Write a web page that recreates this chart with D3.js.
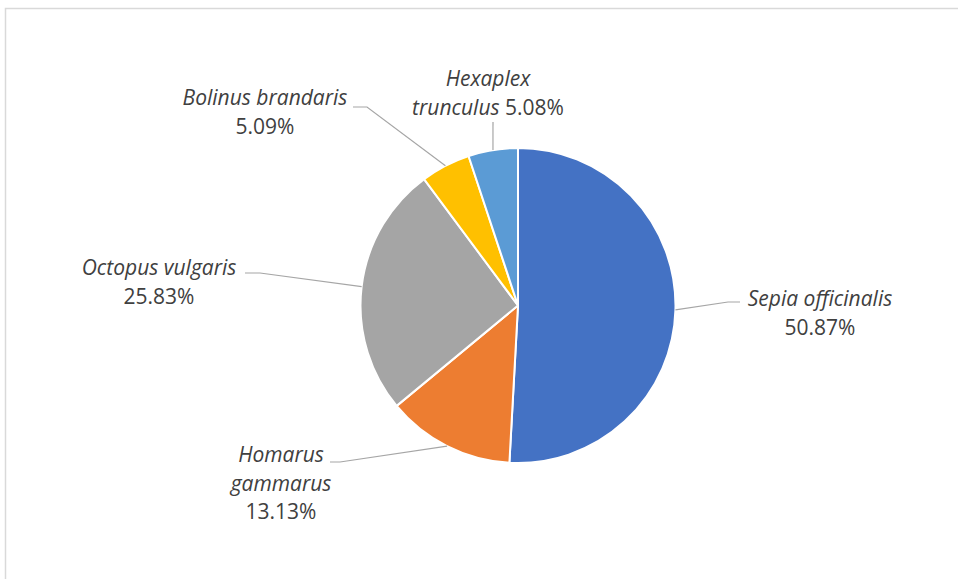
<!DOCTYPE html>
<html><head><meta charset="utf-8">
<script src="https://cdn.jsdelivr.net/npm/d3@7"></script>
<style>body{margin:0;background:#fff}svg{display:block}</style>
</head><body><svg id="c" width="958" height="579"></svg>
<script>
const categories = ["Sepia officinalis","Homarus gammarus","Octopus vulgaris","Bolinus brandaris","Hexaplex trunculus"];
const values = [50.87, 13.13, 25.83, 5.09, 5.08];
const colors = ["#4472C4","#ED7D31","#A5A5A5","#FFC000","#5B9BD5"];
// label text lines (name parts are italic, percentages upright)
const labelLines = [
  [[["Sepia officinalis",true]],[["50.87%",false]]],
  [[["Homarus",true]],[["gammarus",true]],[["13.13%",false]]],
  [[["Octopus vulgaris",true]],[["25.83%",false]]],
  [[["Bolinus brandaris",true]],[["5.09%",false]]],
  [[["Hexaplex",true]],[["trunculus",true],[" 5.08%",false]]]
];
// layout: label centre x, first baseline y, elbow point, end of leader
const labelLayout = [
  {x:820, y:306, elbow:[728,302], end:[740,302]},
  {x:281, y:462, elbow:[340,462], end:[330,462]},
  {x:159, y:275, elbow:[260,273], end:[245,273]},
  {x:265, y:105, elbow:[367,107], end:[353,107]},
  {x:488, y:86,  elbow:[493,122], end:[493,122]}
];
const W=958,H=579, cx=518, cy=305.5, R=157.5, lineH=28.7;
const svg=d3.select("#c");
svg.append("rect").attr("x",5.5).attr("y",8.5).attr("width",1000).attr("height",600)
  .attr("fill","#fff").attr("stroke","#d9d9d9").attr("stroke-width",1.5);
const pie=d3.pie().sort(null).value(d=>d)(values);
const arc=d3.arc().innerRadius(0).outerRadius(R);
const g=svg.append("g").attr("transform",`translate(${cx},${cy})`);
g.selectAll("path").data(pie).join("path").attr("d",arc)
  .attr("fill",(d,i)=>colors[i]).attr("stroke","#fff").attr("stroke-width",2).attr("stroke-linejoin","round");
// leaders
pie.forEach((d,i)=>{
  const a=(d.startAngle+d.endAngle)/2;
  const sx=cx+R*Math.sin(a), sy=cy-R*Math.cos(a);
  const L=labelLayout[i];
  svg.append("polyline").attr("points",[[sx,sy],L.elbow,L.end].map(p=>p.join(",")).join(" "))
    .attr("fill","none").attr("stroke","#a6a6a6").attr("stroke-width",1.2);
});
// labels
labelLines.forEach((lines,i)=>{
  const L=labelLayout[i];
  lines.forEach((parts,j)=>{
    const t=svg.append("text").attr("x",L.x).attr("y",L.y+j*lineH)
      .attr("text-anchor","middle").attr("font-family","'Open Sans', Lato, sans-serif")
      .attr("font-size",21).attr("fill","#404040");
    parts.forEach(p=>t.append("tspan").text(p[0]).attr("font-style",p[1]?"italic":"normal"));
  });
});
</script></body></html>
